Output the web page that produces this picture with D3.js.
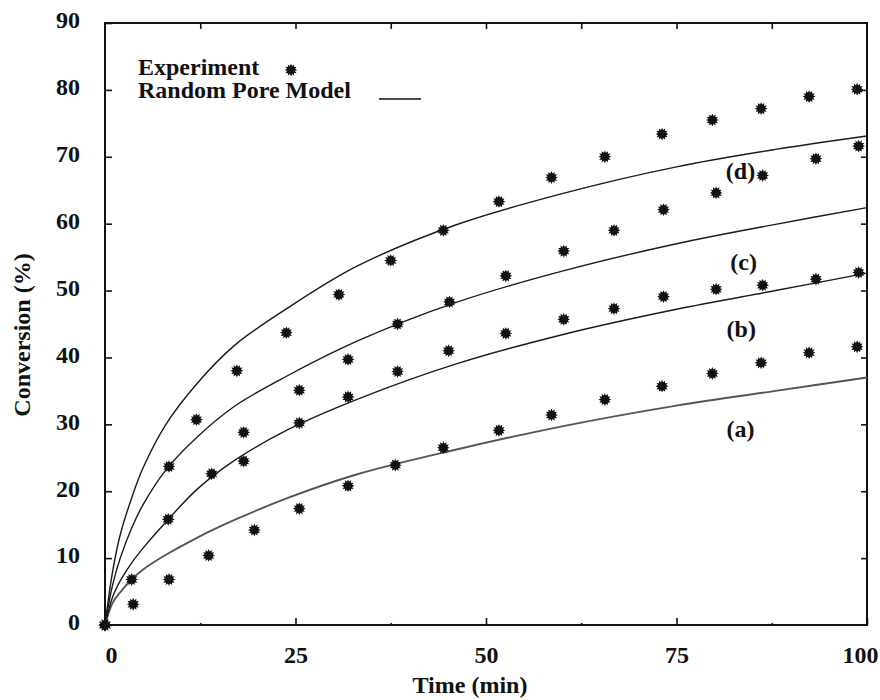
<!DOCTYPE html>
<html>
<head>
<meta charset="utf-8">
<script src="https://cdn.jsdelivr.net/npm/d3@7"></script>
<style>
  html, body { margin: 0; padding: 0; background: #fff; }
  svg text { font-family: "Liberation Serif", "Times New Roman", serif; font-weight: bold; fill: #111; }
</style>
</head>
<body>
<svg id="chart" width="880" height="700"></svg>
<script>
// ---------- data ----------
const xTickValues = [0, 25, 50, 75, 100];
const yTickValues = [0, 10, 20, 30, 40, 50, 60, 70, 80, 90];
const topTickValues = [12.5, 25, 37.5, 50, 62.5, 75, 87.5];
const bottomMinorTicks = [12.5, 37.5, 62.5, 87.5];
const innerYTicks = [10, 20, 30, 40, 50, 60, 70, 80];

const seriesLabels = ["(a)", "(b)", "(c)", "(d)"];

// Experimental points
const timeA = [0, 3.7, 8.4, 13.6, 19.6, 25.5, 31.9, 38.1, 44.4, 51.7, 58.6, 65.6, 73.1, 79.7, 86.1, 92.4, 98.7];
const expA  = [0, 3.1, 6.8, 10.4, 14.2, 17.4, 20.8, 23.9, 26.5, 29.1, 31.4, 33.7, 35.7, 37.6, 39.2, 40.7, 41.6];
const timeB = [0, 8.3, 18.2, 25.5, 31.9, 38.4, 45.1, 52.6, 60.2, 66.8, 73.3, 80.2, 86.3, 93.3, 98.9];
const expB  = [0, 15.8, 24.5, 30.2, 34.1, 37.9, 41.0, 43.6, 45.7, 47.3, 49.1, 50.2, 50.8, 51.7, 52.7];
const timeC = [0, 14.0, 18.2, 25.5, 31.9, 38.4, 45.2, 52.6, 60.2, 66.8, 73.3, 80.2, 86.3, 93.3, 98.9];
const expC  = [0, 22.6, 28.8, 35.1, 39.7, 45.0, 48.3, 52.2, 55.9, 59.0, 62.1, 64.6, 67.2, 69.7, 71.6];
const timeD = [0, 3.5, 8.4, 12.0, 17.3, 23.8, 30.7, 37.5, 44.4, 51.7, 58.6, 65.6, 73.1, 79.7, 86.1, 92.4, 98.7];
const expD  = [0, 6.8, 23.7, 30.7, 38.0, 43.7, 49.4, 54.5, 59.0, 63.3, 66.9, 70.0, 73.4, 75.5, 77.2, 79.0, 80.1];

// Random Pore Model curves (at these times)
const modelTime = [0, 1, 2, 3.5, 5, 8, 12, 17, 24, 33, 46, 60, 75, 88, 100];
const modelA = [0, 3.3, 4.9, 6.8, 8.3, 10.5, 13.0, 15.7, 19.0, 22.5, 26.2, 29.7, 32.8, 35.0, 37.0];
const modelB = [0, 4.2, 6.6, 9.3, 11.5, 15.4, 20.2, 24.6, 29.2, 33.7, 39.0, 43.4, 47.2, 50.0, 52.6];
const modelC = [0, 6.0, 10.0, 14.5, 18.0, 23.2, 28.0, 32.7, 37.3, 42.4, 48.2, 52.9, 57.0, 59.9, 62.4];
const modelD = [0, 8.0, 13.5, 19.0, 23.5, 30.0, 36.0, 41.8, 47.4, 53.6, 59.8, 64.5, 68.5, 71.1, 73.1];

// curve label positions in data units
const labelT = [83.4, 83.5, 83.8, 83.4];
const labelV = [29.4, 44.3, 54.3, 67.9];

// ---------- drawing ----------
const svg = d3.select("#chart");
svg.append("rect").attr("width", 880).attr("height", 700).attr("fill", "#fff");

const x = d3.scaleLinear().domain([0, 100]).range([105, 867]);
const y = d3.scaleLinear().domain([0, 90]).range([625, 23]);

const FS = 24;

// frame
svg.append("rect")
  .attr("x", x(0)).attr("y", y(90))
  .attr("width", x(100) - x(0)).attr("height", y(0) - y(90))
  .attr("fill", "none").attr("stroke", "#111").attr("stroke-width", 2);

function styleAxis(g) {
  g.select(".domain").remove();
  g.selectAll(".tick line").attr("stroke", "#111").attr("stroke-width", 1.6);
  g.selectAll(".tick text").attr("font-size", FS).attr("fill", "#111")
    .style("font-family", "'Liberation Serif','Times New Roman',serif").style("font-weight", "bold");
}

// left axis
svg.append("g").attr("transform", `translate(${x(0)},0)`)
  .call(d3.axisLeft(y).tickValues(yTickValues).tickSize(-7).tickPadding(25).tickFormat(d3.format("d")))
  .call(styleAxis)
  .call(g => g.selectAll(".tick text").attr("dy", "0.2em"));

// bottom axis
svg.append("g").attr("transform", `translate(0,${y(0)})`)
  .call(d3.axisBottom(x).tickValues(xTickValues).tickSize(-7).tickPadding(21).tickFormat(d3.format("d")))
  .call(styleAxis)
  .call(g => g.selectAll(".tick text").attr("dx", d => d === 0 ? 6 : (d === 100 ? -7 : 0)));

// bottom minor ticks
svg.append("g").attr("transform", `translate(0,${y(0)})`)
  .call(d3.axisBottom(x).tickValues(bottomMinorTicks).tickSize(-2).tickFormat(""))
  .call(styleAxis);

// top ticks
svg.append("g").attr("transform", `translate(0,${y(90)})`)
  .call(d3.axisTop(x).tickValues(topTickValues).tickSize(-6).tickFormat(""))
  .call(styleAxis);

// right ticks
svg.append("g").attr("transform", `translate(${x(100)},0)`)
  .call(d3.axisRight(y).tickValues(innerYTicks).tickSize(-6).tickFormat(""))
  .call(styleAxis);

// axis titles
svg.append("text").attr("x", 470).attr("y", 693).attr("text-anchor", "middle")
  .attr("font-size", FS).text("Time (min)");
svg.append("text").attr("transform", "translate(30,335) rotate(-90)").attr("text-anchor", "middle")
  .attr("font-size", FS).text("Conversion (%)");

// model curves
const models = [modelA, modelB, modelC, modelD];
const line = d3.line().x(d => x(d[0])).y(d => y(d[1])).curve(d3.curveCatmullRom.alpha(0.5));
models.forEach((m, i) => {
  svg.append("path")
    .datum(modelTime.map((t, k) => [t, m[k]]))
    .attr("d", line)
    .attr("fill", "none")
    .attr("stroke", i === 0 ? "#555" : "#1a1a1a")
    .attr("stroke-width", i === 0 ? 1.9 : 1.4);
});

// star marker
function starPath(rOut, rIn, n) {
  const pts = [];
  for (let k = 0; k < 2 * n; k++) {
    const r = k % 2 === 0 ? rOut : rIn;
    const a = Math.PI * k / n - Math.PI / 2;
    pts.push([r * Math.cos(a), r * Math.sin(a)]);
  }
  return "M" + pts.map(p => p[0].toFixed(2) + "," + p[1].toFixed(2)).join("L") + "Z";
}
const starD = starPath(6.4, 4.2, 12);

const expSeries = [[timeA, expA], [timeB, expB], [timeC, expC], [timeD, expD]];
expSeries.forEach(([ts, vs]) => {
  svg.append("g").selectAll("path")
    .data(ts.map((t, k) => [t, vs[k]]))
    .join("path")
    .attr("d", starD)
    .attr("transform", d => `translate(${x(d[0])},${y(d[1])})`)
    .attr("fill", "#111");
});

// curve labels
seriesLabels.forEach((s, i) => {
  svg.append("text").attr("x", x(labelT[i])).attr("y", y(labelV[i])).attr("dy", "0.35em")
    .attr("text-anchor", "middle").attr("font-size", FS).text(s);
});

// legend
svg.append("text").attr("x", 138).attr("y", 75).attr("font-size", FS).text("Experiment");
svg.append("path").attr("d", starD).attr("transform", "translate(291,70)").attr("fill", "#111");
svg.append("text").attr("x", 138).attr("y", 98).attr("font-size", FS).text("Random Pore Model");
svg.append("line").attr("x1", 379).attr("x2", 421).attr("y1", 99).attr("y2", 99)
  .attr("stroke", "#111").attr("stroke-width", 1.6);
</script>
</body>
</html>
